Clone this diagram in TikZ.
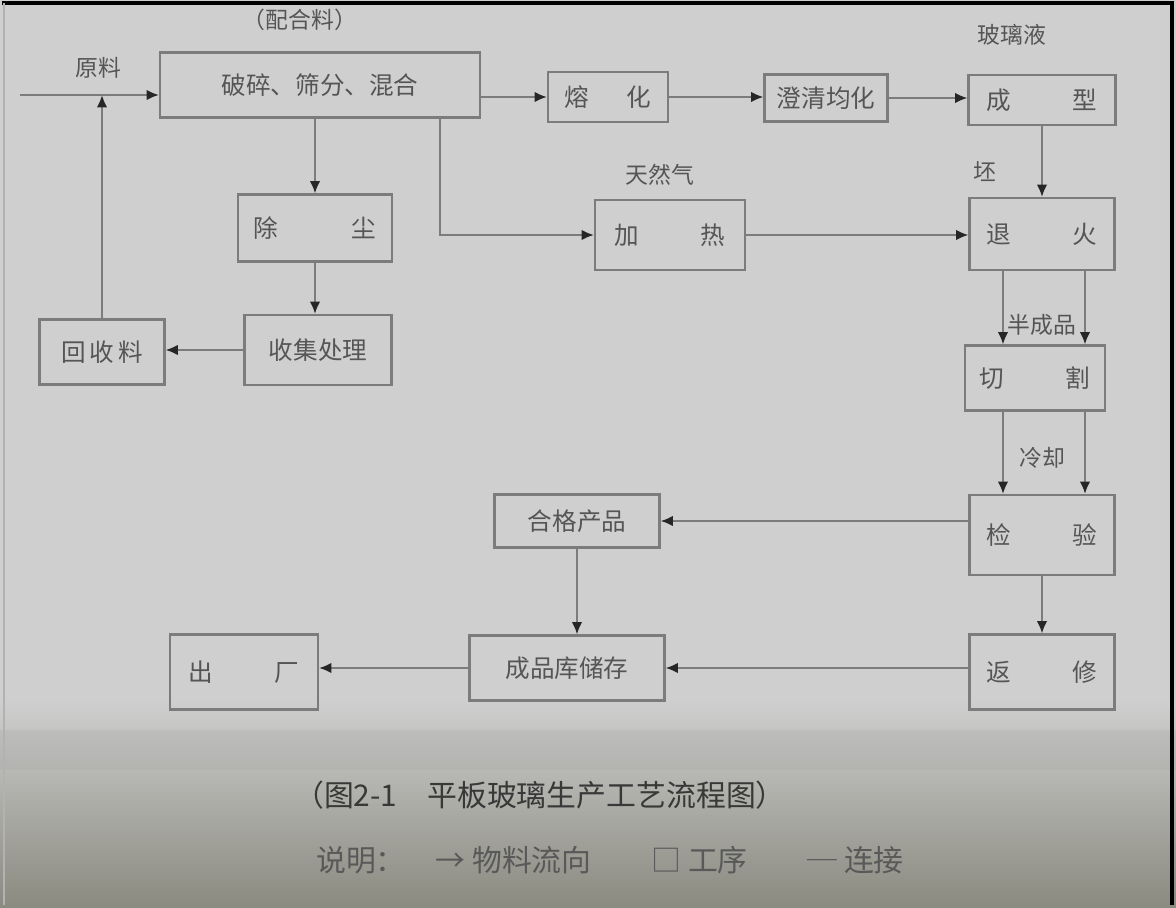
\documentclass[tikz,border=0pt]{standalone}
\usepackage{fontspec}
\newfontfamily\cjk{Noto Sans CJK SC}
\usetikzlibrary{arrows.meta}
\newcommand{\pxu}{0.02cm}
\definecolor{bgc}{HTML}{CFCFCF}
\definecolor{boxc}{HTML}{7C7C7C}
\definecolor{txtc}{HTML}{555555}
\definecolor{lowc}{HTML}{8A8A80}
\tikzset{
  proc/.style={draw=boxc, line width=1.2pt, rectangle, inner sep=2pt,
    font=\cjk\fontsize{14}{16}\selectfont, text=txtc},
  bw/.style={minimum width=#1*\pxu},
  bh/.style={minimum height=#1*\pxu},
  lbl/.style={font=\cjk\fontsize{13}{15}\selectfont, text=txtc, inner sep=1pt},
  arr/.style={draw=boxc, line width=1.2pt, -{Latex[length=7pt,width=6pt,color=black!85]}},
  captxt/.style={font=\cjk\fontsize{17}{19}\selectfont, text=black!78, inner sep=1pt}
}
\begin{document}
\begin{tikzpicture}[x=0.02cm,y=-0.02cm]
\useasboundingbox (0,0) rectangle (1176,908);
% background
\fill[bgc] (0,0) rectangle (1176,908);
\shade[top color=bgc, bottom color=lowc] (0,700) rectangle (1176,908);
\fill[black!35, opacity=0.25] (0,730) rectangle (1176,770);
% frame
\draw[black, line width=2pt] (2,3) -- (1172,3) -- (1172,905);
\draw[black!30, line width=1pt] (4,3) -- (4,905);

% boxes
\node[proc, bw=320, bh=65] (long) at (320,85) {破碎、筛分、混合};
\node[proc, bw=120, bh=50] (b2) at (608,97) {熔\hspace{1.5em}化};
\node[proc, bw=123, bh=47] (b3) at (826,98) {澄清均化};
\node[proc, bw=147, bh=50] (b4) at (1042,100) {成\hspace{2.5em}型};
\node[proc, bw=145, bh=72] (b5) at (1042,234) {退\hspace{2.5em}火};
\node[proc, bw=150, bh=70] (b6) at (670,235) {加\hspace{2.5em}热};
\node[proc, bw=154, bh=67] (b7) at (315,228) {除\hspace{3em}尘};
\node[proc, bw=147, bh=70] (b8) at (318,350) {收集处理};
\node[proc, bw=125, bh=65] (b9) at (102,352) {回\,收\,料};
\node[proc, bw=140, bh=65] (b10) at (1035,378) {切\hspace{2.5em}割};
\node[proc, bw=145, bh=80] (b11) at (1042,535) {检\hspace{2.5em}验};
\node[proc, bw=165, bh=53] (b12) at (577,521) {合格产品};
\node[proc, bw=195, bh=65] (b13) at (567,668) {成品库储存};
\node[proc, bw=145, bh=75] (b14) at (1042,672) {返\hspace{2.5em}修};
\node[proc, bw=148, bh=75] (b15) at (244,672) {出\hspace{2.5em}厂};

% labels
\node[lbl] (lraw) at (98,68) {原料};
\node[lbl] (lmix) at (300,20) {（配合料）};
\node[lbl] (lglass) at (1012,35) {玻璃液};
\node[lbl] (lpi) at (985,172) {坯};
\node[lbl] (lgas) at (660,175) {天然气};
\node[lbl] (lsemi) at (1042,325) {半成品};
\node[lbl] (lcool) at (1042,458) {冷却};

\coordinate (rawstart) at (20,95);

% connectors
\draw[arr] (rawstart) -- (long.west |- rawstart);
\draw[arr] (b9.north) -- (b9.north |- rawstart);
\draw[arr] (long.east |- b2.west) -- (b2.west);
\draw[arr] (b2.east) -- (b2.east -| b3.west);
\draw[arr] (b3.east) -- (b3.east -| b4.west);
\draw[arr] (b4.south) -- (b5.north);
\draw[arr] ([xshift=2.4cm]long.south) |- (b6.west);
\draw[arr] (b6.east) -- (b6.east -| b5.west);
\draw[arr] (long.south -| b7.north) -- (b7.north);
\draw[arr] (b7.south) -- (b7.south |- b8.north);
\draw[arr] (b8.west) -- (b8.west -| b9.east);
\draw[arr] ([xshift=-0.78cm]b5.south) -- ([xshift=-0.78cm]b5.south |- b10.north);
\draw[arr] ([xshift=0.86cm]b5.south) -- ([xshift=0.86cm]b5.south |- b10.north);
\draw[arr] ([xshift=-0.78cm]b5.south |- b10.south) -- ([xshift=-0.78cm]b5.south |- b11.north);
\draw[arr] ([xshift=0.86cm]b5.south |- b10.south) -- ([xshift=0.86cm]b5.south |- b11.north);
\draw[arr] (b12.east -| b11.west) -- (b12.east);
\draw[arr] (b12.south) -- (b12.south |- b13.north);
\draw[arr] (b11.south) -- (b14.north);
\draw[arr] (b13.east -| b14.west) -- (b13.east);
\draw[arr] (b13.west) -- (b13.west -| b15.east);

% caption
\node[captxt] (cap1) at (540,795) {（图2-1\quad 平板玻璃生产工艺流程图）};
\node[captxt, text=black!65] (cap2) at (610,860) {说明：\quad → 物料流向\qquad □ 工序\qquad ─ 连接};
\end{tikzpicture}
\end{document}
